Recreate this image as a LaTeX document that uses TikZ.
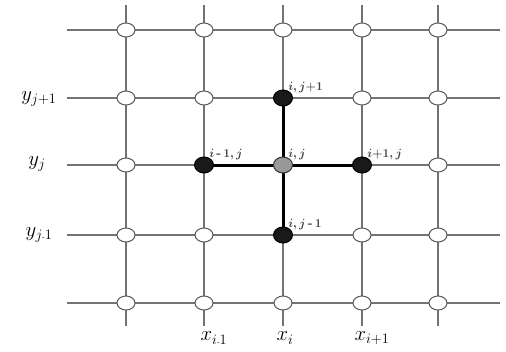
\documentclass[tikz,border=0pt]{standalone}
\usetikzlibrary{shapes.geometric}
\begin{document}
\begin{tikzpicture}[x=1pt,y=-1pt,
  grid/.style={draw=black!55,line width=1.3pt},
  stencil/.style={draw=black,line width=3pt},
  opennode/.style={ellipse,draw=black!65,fill=white,line width=1pt,minimum width=18pt,minimum height=14pt,inner sep=0pt},
  fullnode/.style={ellipse,draw=black,fill=black!90,line width=1pt,minimum width=19pt,minimum height=16pt,inner sep=0pt},
  centernode/.style={ellipse,draw=black!80,fill=black!40,line width=1pt,minimum width=19pt,minimum height=16pt,inner sep=0pt},
  axlabel/.style={font=\fontsize{20}{23}\selectfont},
  ptlabel/.style={font=\fontsize{13}{15}\selectfont\boldmath,text=black!75,inner sep=1pt}]
\useasboundingbox (0,0) rectangle (506,351);
% grid line ends
\foreach \x/\n in {126/1,204/2,283/3,362/4,438/5}{
  \coordinate (vt\n) at (\x,5);
  \coordinate (vb\n) at (\x,326);
  \draw[grid] (vt\n) -- (vb\n);
}
\foreach \y/\n in {30/1,98/2,165/3,235/4,303/5}{
  \coordinate (hl\n) at (67,\y);
  \coordinate (hr\n) at (500,\y);
  \draw[grid] (hl\n) -- (hr\n);
}
% stencil lines
\coordinate (W) at (204,165);
\coordinate (E) at (362,165);
\coordinate (N) at (283,98);
\coordinate (S) at (283,235);
\coordinate (C) at (283,165);
\draw[stencil] (W) -- (E);
\draw[stencil] (N) -- (S);
% open nodes
\foreach \x/\i in {126/1,204/2,283/3,362/4,438/5}{
  \foreach \y/\j in {30/1,98/2,165/3,235/4,303/5}{
    \node[opennode] (o\i\j) at (\x,\y) {};
  }
}
% stencil nodes
\node[fullnode] (nN) at (N) {};
\node[fullnode] (nS) at (S) {};
\node[fullnode] (nW) at (W) {};
\node[fullnode] (nE) at (E) {};
\node[centernode] (nC) at (C) {};
% point labels
\node[ptlabel,anchor=south west] (lN) at ([xshift=-3pt,yshift=-2pt]nN.north east) {$i,j{+}1$};
\node[ptlabel,anchor=south west] (lS) at ([xshift=-3pt,yshift=-2pt]nS.north east) {$i,j\mbox{\,\bfseries-\,}1$};
\node[ptlabel,anchor=south west] (lW) at ([xshift=-3pt,yshift=-2pt]nW.north east) {$i\mbox{\,\bfseries-\,}1,j$};
\node[ptlabel,anchor=south west] (lC) at ([xshift=-3pt,yshift=-2pt]nC.north east) {$i,j$};
\node[ptlabel,anchor=south west] (lE) at ([xshift=-3pt,yshift=-2pt]nE.north east) {$i{+}1,j$};
% axis labels
\node[axlabel] (yjp) at (39,99) {$y_{j+1}$};
\node[axlabel] (yj) at (37,164) {$y_{j}$};
\node[axlabel] (yjm) at (39,235) {$y_{j\mbox{\scriptsize -}1}$};
\node[axlabel] (xim) at (214,338) {$x_{i\mbox{\scriptsize -}1}$};
\node[axlabel] (xi) at (285,338) {$x_{i}$};
\node[axlabel] (xip) at (372,338) {$x_{i+1}$};
\end{tikzpicture}
\end{document}
